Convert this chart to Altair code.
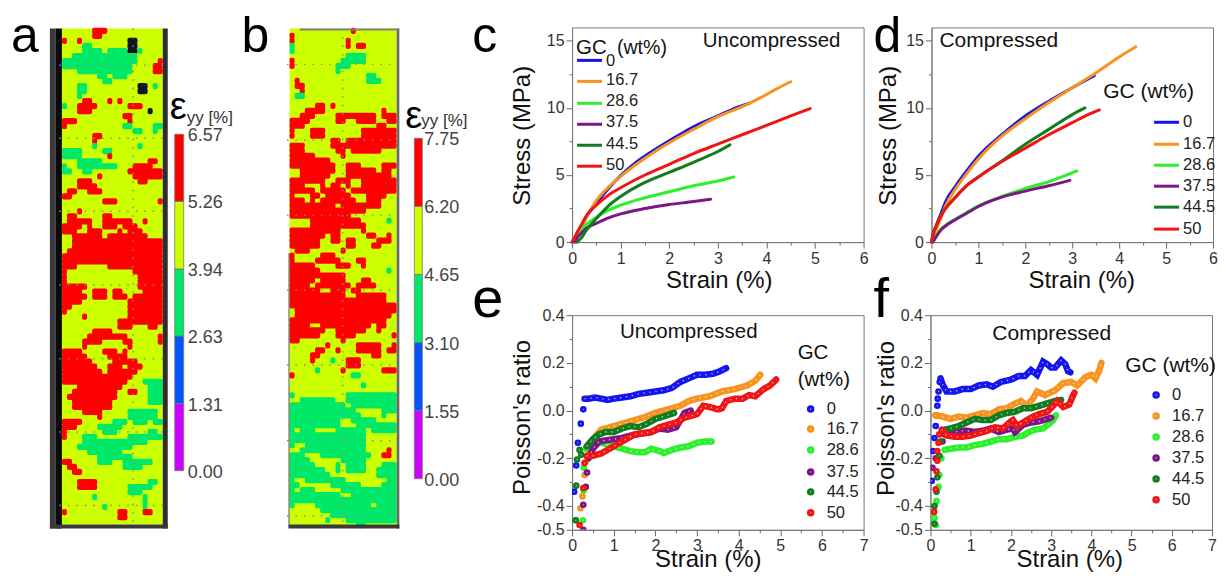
import altair as alt
import pandas as pd

GC_LABELS = ["0", "16.7", "28.6", "37.5", "44.5", "50"]
COLORS = ["#1414ee", "#f7931e", "#2cf02c", "#7d1585", "#0f7d1e", "#f01414"]

# ---- strain maps: . base, r red, g green, k black
MAP_A = [
"......rrr...........","......rr............","r..r.........kk.....","....gg.......kk.....",
"....gggg.ggggkkg....","..ggggggggggggg.....","ggggggggggggggg....r","gggggggggggggg....rr",
"...ggggggggggg....rr",".......gg.ggg.......","........gg..........","...gg..........kk.g.",
"...gg..........kk...","...g................","....rr...r.r........","g..rrrr......rrr....",
"...rrr...........k..","............rr......","rrr..........r......","r...........gg....gg",
"..............gg..g.","......rr............","......r.............","......g........g....",
"gggg....gg..........","gggg.....r..........","...ggggg.........rr.","g..gggggggg...rrrr..",
"gg..gg.......rrrrrrr",".......r......rrrrrr","...rrr.........rr...","...rrrr.............",
".rr..rrr............","rr..................","........rrr........r","....................",
"...r................",".rr.....rr..........",".rrrrr..rrrrrr..r...","rrrr.r..rrr.rrr.....",
"rrr..rrr...r.rrr....","..rrrrrr.rrrrrrrr...","..rrrrrrrrrrrrrrrrrr","..rrrrrrrrrrrrrrrrrr",
".rrrrrrrrrrrrrrrrrrr","rrrrrrrrrrrrrrrrrrrr","rrrrrrrrrrrrrrrrrrrr","rrr......rrrrrrrrrrr",
"r.............rrrrrr","r..............rrrrr","r..............rrrrr","rrrrr..........rrrrr",
"rrrr..rrr.rr....rrrr","rrrrr.rrr.rrr.rrrrrr","rrrr.........rrrrrrr","rr...........rrrrrrr",
"r............rrrrrrr","....r........rrrrrrr","...........rrrrrrrrr","...........rrr...rr.",
"......rrrr..........",".....rrrrrrrr......r","....rrrr....rr.....r","....r........r......",
"rrrr....rrr.r.......","rrrrr....rrrr.......","rrrrrr....rrrrr.....","rrrrrrr..rrr.rrr....",
"rrrrrrrr.rrrrrr.....","rrrrrrrrrrrrrr......","rrrrrrrrrrrrr...gggg","...rrrrrrrrr.....ggg",
"..rrrrrrrrr..rr..ggg",".rrrrrrrrrr......ggg","..rrrrrrrr.......ggg","..rrrrrrrr..........",
"....rrrr.....gggggg.",".......r.....gggggg.","rrrr......ggg.ggg.gg","rrr....ggggg........",
"r.......ggg......gg.","r...ggg......ggggggg","....ggggggggggggg...","...ggggggggggg......",
".....ggggggg........",".......ggggggg......","rr.....ggg..gggggg..",".rr.........gggg....",
"..rr................","....................","...rrrr..........gg.","...rrrr......ggggg..",
".............ggg....","......g.........g...","................g...","........g.......g...",
"r..........rr...rr..","...........rr......."]

MAP_B = [
"............r........","r....................","r..........r.........","g..........r.rr......",
"g....................","...........gggg......","r.........ggggg......","r........ggg.........",
".........g...........","...............gg....",".r.............ggg...",".rr..................",
"..r..................",".gg..................",".....................",".....rr.r............",
"...rrrr...........r..","..rrr....rrrrrrrr.rrr","rrrr.....rr..rrrr..rr","rrr..............rr..",
"r...rrr.......rrrrrrr","r...rrr.......rrrrrrr","........rr.rrrrrrrrrr","rrr.....rrrrrrrrrrrrr",
"rrr......rr.rrrrrr...","rrrrr.....r..........","rrrrrrrr.............","rrrrrrrrr..rrr....rrr",
"..rrrrrrr..rrrrrr.rr.","..rrrrrr...rrrrrrrrr.","rrrrrrr..rrr..rrrrrrr","rrr...r.rr.r..rrrrrrr",
"rrrrr.rrrrr.rrrrrrrrr","r...rr.rrrrr...rrrr..","rrr.r.rrrrrrr..rrr...","rrrrrrrrr.rrrrrrrr...",
"rrrrrrrrrrrrrrr......","rrrrrrrrrrrr.........","....rrrrrrrrrr.....g.","....rrrrrrrrrrr......",
"rrrrrrrrrr....r......","rrrrrrr.rr.....rr..r.","rrrrrr..rr.rr....rrr.","rrrrrr.....rr...rr...",
".rrr......r..........","r.....rrr............","r....rrrrr...rr......","rrrrr....rrr..r......",
"rrrrrr.............g.","rrrrrrrrrrr..........","rrrrr.rrrrr...rr.....","rrrr.rrrrrrr.rrrr....",
"rrrrrr..rrr.rr.......","rrrrrrrrrrr..rrrrrr..","rrrrrrrrrrrrrrrrrrr..","rrrrrrrrrrrrrrrrrrrrr",
".rrrrrrrrrrrrrrrrrrrr",".rrrrrrrrrrrrrrrrrrr.","rrrrrrrrrrrrrrrrrrr..","rrrr..rrrrrrrrrr.rr..",
"rrrrrrr..rrrrrr..r...","rrrrrr...rrrr.......r","rr........r..........",".......r.....rrrrr..r",
".....rr..r...rrrrr.rr","....rr..........rr...","....r...g..rrr.......","...........rrr.......",
".....g....r.......rrr","r...........gg.......",".....................","..............g......",
".....................","g..........gggggggggg","..ggggggg..gggggggggg","ggggggggggg.ggggggggg",
"ggggggggggggg.....ggg","gggggggggggggg....g..","gggggggggg..ggggg....","gggggggggg...gggggggg",
"g.ggg....gggggg.ggggg","ggggggggggggggg......","ggggggggggggggg......","g..gggggggggggg......",
"..ggggggggggggg....r.","ggg...gggggggggg..rr.","gggg......ggggg......","ggggg....g.gggg...ggg",
"ggggggg..g.gggg..gggg","gggggggg.........gggg","g..gggggggg........gg","gg......gggggg....ggg",
"g.ggg.....ggggggggggg","gggggggggg..ggggggggg","ggggggggggggggggggggg","g....ggggggggggg.gggg",
"......ggggggggggggggg","........ggggggggggggg",".......g...gggggggggg",".............gg......"]

CB_A = [0.00, 1.31, 2.63, 3.94, 5.26, 6.57]
CB_B = [0.00, 1.55, 3.10, 4.65, 6.20, 7.75]
CB_COLORS = ["#cc00ff", "#0055ff", "#00e868", "#ccff00", "#ff0000"]

# ---- stress-strain, panel c
C_X = [
[0,.1,.2,.3,.5,.75,1,1.3,1.6,2,2.5,3,3.3,3.65],
[0,.1,.2,.3,.5,.75,1,1.3,1.6,2,2.5,3,3.5,3.9,4.2,4.5],
[.05,.1,.2,.4,.6,1,1.5,2,2.5,3,3.33],
[.05,.1,.2,.3,.5,.75,1,1.5,2,2.5,2.85],
[.1,.2,.3,.5,.75,1,1.5,2,2.5,3,3.25],
[0,.05,.1,.2,.3,.5,.75,1,1.5,2,2.5,3,3.5,4,4.5,4.9]]
C_Y = [
[0,.6,1.2,1.9,2.9,4,4.95,5.9,6.65,7.55,8.6,9.4,9.9,10.35],
[0,.6,1.2,1.9,3.1,4.1,4.9,5.75,6.5,7.4,8.4,9.35,10.1,10.8,11.4,11.95],
[0,.4,1,1.6,2.1,2.75,3.3,3.75,4.2,4.55,4.85],
[0,.3,.7,1.05,1.4,1.8,2.1,2.5,2.8,3.02,3.2],
[0,.35,.9,1.75,2.7,3.4,4.45,5.2,5.95,6.75,7.25],
[0,.3,.7,1.35,2,2.75,3.5,4.05,5,5.8,6.6,7.3,8,8.7,9.4,9.95]]
# ---- panel d
D_X = [
[0,.05,.1,.2,.3,.5,.75,1,1.5,2,2.5,3,3.47],
[0,.1,.2,.3,.5,.75,1,1.5,2,2.5,3,3.5,4,4.35],
[.03,.1,.2,.3,.5,.75,1,1.5,2,2.5,3.1],
[.03,.1,.2,.3,.5,.75,1,1.5,2,2.5,2.95],
[0,.05,.1,.2,.3,.5,.75,1,1.5,2,2.5,3,3.27],
[0,.03,.1,.2,.3,.5,.75,1,1.5,2,2.5,3,3.4,3.58]]
D_Y = [
[0,.7,1.2,2.1,3,4.1,5.3,6.4,8,9.4,10.5,11.5,12.4],
[0,.9,1.8,2.7,3.9,5.1,6.2,7.9,9.2,10.4,11.5,12.6,13.8,14.55],
[0,.4,.95,1.25,1.7,2.2,2.7,3.4,4,4.5,5.3],
[0,.4,.9,1.2,1.65,2.15,2.65,3.35,3.8,4.2,4.6],
[0,.7,1.2,2,2.5,3.3,4.2,4.85,6.05,7.3,8.4,9.5,10],
[0,.6,1.2,1.9,2.5,3.3,4.2,4.85,6,7,8,8.9,9.6,9.85]]

# ---- Poisson's ratio, panel e: isolated early points, then the dense run
E_RISE_X = [[.05,.1,.14,.21,.27],[.2,.25,.3],[.09,.26,.28,.28],[.27,.27,.33,.36],[.09,.1,.12,.18,.22],[.18,.27,.3]]
E_RISE_Y = [[-.34,-.23,-.135,-.055,.005],[-.41,-.36,-.27],[-.46,-.46,-.335,-.24],[-.5,-.395,-.32,-.26],[-.46,-.315,-.205,-.165,-.185],[-.48,-.325,-.22]]
E_X = [
[.3,.4,.55,.7,.85,1,1.2,1.4,1.6,1.8,2,2.2,2.4,2.6,2.8,3,3.2,3.4,3.55,3.7],
[.35,.45,.55,.7,.9,1.1,1.4,1.7,2,2.3,2.6,2.8,3,3.3,3.6,3.9,4.2,4.4,4.52],
[.33,.45,.6,.8,1,1.2,1.4,1.6,1.75,1.9,2.1,2.2,2.4,2.6,2.8,3,3.2,3.35],
[.4,.5,.65,.8,1,1.2,1.4,1.7,1.9,2.1,2.3,2.5,2.6,2.7,2.85],
[.35,.5,.65,.8,1,1.2,1.4,1.6,1.8,2,2.2,2.45],
[.35,.5,.7,.9,1.1,1.3,1.5,1.7,1.9,2.1,2.3,2.5,2.7,3,3.15,3.3,3.5,3.6,3.7,3.9,4.1,4.25,4.4,4.6,4.75,4.9]]
E_Y = [
[.05,.05,.055,.05,.045,.05,.055,.06,.07,.075,.08,.085,.095,.12,.135,.15,.15,.155,.165,.178],
[-.21,-.15,-.11,-.08,-.07,-.06,-.045,-.03,-.01,.005,.02,.04,.05,.06,.08,.09,.105,.125,.15],
[-.16,-.14,-.13,-.14,-.15,-.16,-.17,-.175,-.175,-.16,-.17,-.178,-.165,-.155,-.15,-.135,-.13,-.13],
[-.2,-.16,-.13,-.125,-.12,-.115,-.105,-.095,-.09,-.075,-.08,-.07,-.04,-.01,0],
[-.15,-.12,-.1,-.09,-.09,-.075,-.065,-.07,-.055,-.035,-.025,-.01],
[-.19,-.19,-.18,-.16,-.14,-.12,-.1,-.095,-.09,-.07,-.06,-.05,-.03,-.015,.02,.015,.005,.01,.04,.05,.05,.065,.06,.09,.105,.13]]
# ---- panel f
F_RISE_X = [[.03,.06,.1,.13,.14,.17,.18,.2,.23],[.12],[.1,.13,.15,.2,.22,.27],[.05,.13,.3],[.1,.1,.15,.17,.22,.25],[.09,.13,.15,.17,.17,.2,.22]]
F_RISE_Y = [[-.295,-.17,-.115,-.065,-.02,.02,.05,.08,.12],[-.02],[-.45,-.48,-.38,-.32,-.27,-.2],[-.24,-.2,-.13],[-.475,-.4,-.34,-.28,-.19,-.13],[-.425,-.33,-.255,-.21,-.17,-.135,-.1]]
F_X = [
[.25,.3,.4,.6,.8,1,1.2,1.4,1.55,1.75,2,2.2,2.35,2.5,2.65,2.8,2.9,3,3.1,3.25,3.35,3.42,3.48],
[.15,.3,.5,.7,.9,1.1,1.3,1.5,1.7,1.9,2.05,2.25,2.4,2.55,2.65,2.85,3.1,3.3,3.5,3.65,3.85,4,4.1,4.2,4.25],
[.35,.5,.7,.9,1.1,1.3,1.5,1.7,1.9,2.1,2.3,2.45,2.6,2.8,2.95,3.05,3.12],
[.35,.5,.7,.9,1.1,1.3,1.5,1.7,1.9,2.05,2.1,2.3,2.5,2.7,2.9,3],
[.35,.5,.7,.9,1.1,1.3,1.5,1.7,1.9,2.1,2.3,2.5,2.7,2.9,3.1,3.25],
[.28,.4,.6,.8,1,1.2,1.4,1.6,1.8,2,2.05,2.15,2.3,2.5,2.7,2.9,3.05,3.15,3.3,3.45,3.55,3.58]]
F_Y = [
[.135,.11,.08,.08,.09,.09,.105,.11,.1,.12,.13,.145,.145,.17,.15,.205,.195,.18,.18,.21,.195,.165,.16],
[-.02,-.025,-.035,-.025,-.03,-.02,-.01,-.015,.005,.01,.025,.04,.02,.05,.08,.065,.085,.115,.12,.105,.14,.15,.135,.17,.2],
[-.165,-.16,-.155,-.155,-.145,-.14,-.13,-.12,-.12,-.11,-.105,-.09,-.08,-.075,-.055,-.04,-.02],
[-.1,-.1,-.085,-.085,-.09,-.085,-.075,-.09,-.08,-.075,-.09,-.06,-.05,-.045,-.035,-.03],
[-.08,-.075,-.065,-.05,-.035,-.04,-.04,-.02,-.01,-.005,.01,.01,.02,.03,.04,.045],
[-.08,-.105,-.11,-.11,-.105,-.095,-.085,-.07,-.075,-.045,-.04,-.065,-.05,-.03,-.015,-.005,.02,.04,.015,.025,.065,.075]]

FONT = "Liberation Sans"
ONE = alt.InlineData(values=[{"k": 1}])
PLAIN = alt.ViewBackground(fill="transparent", stroke=None)
FRAMED = alt.ViewBackground(stroke="#777")


def txt(s, x, y, size, color="#111", align="left", baseline="middle"):
    return alt.Chart(ONE).mark_text(text=s, fontSize=size, color=color, align=align, baseline=baseline, font=FONT).encode(
        x=alt.value(x), y=alt.value(y))


def letter(s, x, y, size=50):
    return txt(s, x, y, size, color="#000", baseline="alphabetic")


def spacer(w):
    # invisible mark so that the panel's bounds are its full width
    return alt.Chart(ONE).mark_rule(opacity=0, strokeWidth=0.01).encode(x=alt.value(0), x2=alt.value(w), y=alt.value(0))


def runs(rows):
    out = []
    for r, row in enumerate(rows):
        c = 0
        while c < len(row):
            ch = row[c]
            e = c
            while e < len(row) and row[e] == ch:
                e += 1
            if ch != ".":
                out.append({"x0": c, "x1": e, "y0": r - 0.12, "y1": r + 1.12, "c": ch})
            c = e
    return pd.DataFrame(out)


def strain_map(rows, w, xdom, ydom, ncol, nrow, frames, hlines, vline, name, lx):
    X = alt.X("x0:Q", axis=None, scale=alt.Scale(domain=xdom, nice=False, zero=False))
    Y = alt.Y("y0:Q", axis=None, scale=alt.Scale(domain=ydom, nice=False, zero=False))
    base = alt.Chart(pd.DataFrame({"x0": [0], "x1": [ncol], "y0": [0], "y1": [nrow]})).mark_rect(color="#ccff00").encode(
        x=X, x2="x1:Q", y=Y, y2="y1:Q")
    cells = alt.Chart(runs(rows)).mark_rect(cornerRadius=2).encode(
        x=X, x2="x1:Q", y=Y, y2="y1:Q",
        color=alt.Color("c:N", legend=None, scale=alt.Scale(domain=["r", "g", "k"], range=["#ff0000", "#00e868", "#15151c"])))
    fr = alt.Chart(pd.DataFrame(frames, columns=["x0", "x1", "y0", "y1", "c"])).mark_rect().encode(
        x=X, x2="x1:Q", y=Y, y2="y1:Q", color=alt.Color("c:N", legend=None, scale=None))
    h = alt.Chart(pd.DataFrame({"y0": hlines, "x0": [-0.5] * len(hlines), "x1": [ncol] * len(hlines)})).mark_rule(
        color="#8a8a8a", strokeWidth=1.5, strokeDash=[1.5, 7]).encode(x=X, x2="x1:Q", y=Y)
    v = alt.Chart(pd.DataFrame({"x0": [vline], "y0": [0], "y1": [nrow]})).mark_rule(
        color="#8a8a8a", strokeWidth=1.5, strokeDash=[1.5, 7]).encode(x=X, y=Y, y2="y1:Q")
    return alt.layer(base, cells, fr, h, v, letter(name, lx, 24.5), spacer(w)).properties(width=w, height=502, view=PLAIN).resolve_scale(color="independent")


def colorbar(stops, w, ydom, bx0, bx1, lx, ex, ey, tx, ty):
    Y = alt.Y("lo:Q", axis=None, scale=alt.Scale(domain=ydom, nice=False, zero=False))
    df = pd.DataFrame({"lo": stops[:-1], "hi": stops[1:], "c": CB_COLORS})
    bar = alt.Chart(df).mark_rect(stroke="#777", strokeWidth=0.8).encode(
        x=alt.value(bx0), x2=alt.value(bx1), y=Y, y2="hi:Q", color=alt.Color("c:N", legend=None, scale=None))
    lab = alt.Chart(pd.DataFrame({"lo": stops, "t": [f"{s:.2f}" for s in stops]})).mark_text(
        align="left", baseline="middle", fontSize=18, color="#444", dy=2, font=FONT).encode(
        x=alt.value(lx), y=Y, text="t:N")
    return alt.layer(bar, lab, txt("ε", ex, ey, 38, color="#000"), txt("yy [%]", tx, ty, 17, color="#333"), spacer(w)).properties(width=w, height=502, view=PLAIN)


AXIS_STYLE = dict(grid=False, labelFontSize=16, labelColor="#333", titleFontSize=24, titleFontWeight="normal",
                  titleColor="#111", labelOverlap=False, domainColor="#777", tickColor="#666",
                  labelFont=FONT, titleFont=FONT, titleBaseline="middle")


def xy(xmax, ymin, ymax, yvals, test, label, ytitle, xt, yt):
    x = alt.X("x:Q", scale=alt.Scale(domain=[0, xmax], nice=False, zero=False),
              axis=alt.Axis(values=[i * 0.5 for i in range(2 * xmax + 1)], title="Strain (%)",
                            labelExpr="datum.value % 1 == 0 ? format(datum.value, 'd') : ''",
                            tickSize={"condition": {"test": "datum.value % 1 == 0", "value": 6}, "value": 3},
                            labelFlush=False, labelPadding=2, titleX=xt[0], titleY=xt[1], **AXIS_STYLE))
    y = alt.Y("y:Q", scale=alt.Scale(domain=[ymin, ymax], nice=False, zero=False),
              axis=alt.Axis(values=yvals, title=ytitle,
                            labelExpr="%s ? %s : ''" % (test, label),
                            tickSize={"condition": {"test": test, "value": 6}, "value": 3},
                            labelPadding=2, titleX=yt[0], titleY=yt[1], **AXIS_STYLE))
    return x, y


def stress_panel(xs, ys, extras, xt, yt, w=292):
    x, y = xy(6, 0, 16, [i * 2.5 for i in range(7)], "datum.value % 5 == 0", "format(datum.value, 'd')",
              "Stress (MPa)", xt, yt)
    layers = []
    for sx, sy, col in zip(xs, ys, COLORS):
        layers.append(alt.Chart(pd.DataFrame({"x": sx, "y": sy})).mark_line(
            color=col, strokeWidth=3, interpolate="monotone", strokeCap="round").encode(x=x, y=y))
    return alt.layer(*layers, *extras).properties(width=w, height=215, view=FRAMED)


def poisson_panel(rx, ry, xs, ys, extras, xt, yt, w=292):
    x, y = xy(7, -0.5, 0.4, [round(-0.5 + i * 0.1, 1) for i in range(10)],
              "indexof([-5,-4,-2,0,2,4], round(datum.value * 10)) >= 0",
              "replace(format(datum.value, '.1f'), '\u2212', '-')",
              "Poisson's ratio", xt, yt)
    layers = []
    for a, b, sx, sy, col in zip(rx, ry, xs, ys, COLORS):
        d = pd.DataFrame({"x": sx, "y": sy})
        r = pd.DataFrame({"x": a, "y": b})
        layers.append(alt.Chart(d).mark_line(color=col, strokeWidth=6.5, strokeCap="round", clip=True).encode(x=x, y=y))
        layers.append(alt.Chart(d).mark_line(color="#ffffff", opacity=0.7, strokeWidth=1.3, strokeDash=[1.3, 4.7], clip=True).encode(x=x, y=y))
        layers.append(alt.Chart(r).mark_circle(color=col, size=44, opacity=1, clip=True).encode(x=x, y=y))
        layers.append(alt.Chart(r).mark_circle(color="#ffffff", size=1.5, opacity=0.7, clip=True).encode(x=x, y=y))
    return alt.layer(*layers, *extras).properties(width=w, height=215, view=FRAMED)


def line_legend(x0, x1, ys, tx, tys, size=16.5):
    out = []
    for col, yy, tyy, lab in zip(COLORS, ys, tys, GC_LABELS):
        out.append(alt.Chart(ONE).mark_rule(color=col, strokeWidth=3).encode(x=alt.value(x0), x2=alt.value(x1), y=alt.value(yy)))
        out.append(txt(lab, tx, tyy, size, color="#222"))
    return out


def dot_legend(x, ys, tx, size=16.5):
    out = []
    for col, yy, lab in zip(COLORS, ys, GC_LABELS):
        out.append(alt.Chart(ONE).mark_circle(color=col, size=56, opacity=1).encode(x=alt.value(x), y=alt.value(yy)))
        out.append(alt.Chart(ONE).mark_circle(color="#ffffff", size=2, opacity=0.7).encode(x=alt.value(x), y=alt.value(yy)))
        out.append(txt(lab, tx, yy, size, color="#222"))
    return out


panel_a = strain_map(
    MAP_A, 160, [-10.69, 20.99], [99.8, -0.2], 20, 99,
    [(-2.38, -1.2, 0, 99.8, "#3a3a3a"), (-1.2, 0, 0, 99.8, "#0a0a0a"), (20, 20.99, 0, 99.8, "#2e2e2e"), (-2.38, 20.99, 99, 99.8, "#3a3a3a")],
    [7.37, 21.9, 36.5, 51.2, 65.9, 80.5, 95.2], 14.1, "a", 3)
bar_a = colorbar(CB_A, 68, [-1.131, 8.656], 7, 16, 20, 2, 81, 19, 91)
panel_b = strain_map(
    MAP_B, 164, [-10.57, 21.53], [100.2, -0.2], 21, 100,
    [(21, 21.53, 0, 100.2, "#6a6a6a"), (2, 21.53, 0, 0.4, "#808080"), (-0.2, 21.53, 99.4, 100.2, "#3a3a3a"), (-0.2, 0, 45, 100, "#555555")],
    [7.2, 22.4, 37.4, 52.4, 67.4, 82.6, 97.6], 10.4, "b", 6)
bar_b = colorbar(CB_B, 72, [-1.136, 10.273], 15, 23, 25, 6, 90, 22, 94)

c_extra = line_legend(5, 30, [33, 54, 76, 97, 118, 139], 34, [34, 53, 74, 95, 117, 138]) + [
    txt("Uncompressed", 131, 14, 20.5), txt("GC", 4, 21, 20.5), txt("(wt%)", 45, 21, 19.6), letter("c", -100, 24.5)]
panel_c = stress_panel(C_X, C_Y, c_extra, (147, 38), (-50, 108))

d_extra = line_legend(223, 248, [95, 117, 138, 159, 180, 202], 252, [95, 117, 138, 159, 180, 202]) + [
    txt("Compressed", 8, 14, 21), txt("GC (wt%)", 172, 65, 21), letter("d", -58, 24.5)]
panel_d = stress_panel(D_X, D_Y, d_extra, (150, 38), (-43, 108), w=282)

e_extra = dot_legend(239, [94, 114, 135, 157, 177, 198], 255) + [
    txt("Uncompressed", 48, 17, 20.5), txt("GC", 226, 38, 20.5), txt("(wt%)", 226, 65, 20.5), letter("e", -100, 2, 56)]
panel_e = poisson_panel(E_RISE_X, E_RISE_Y, E_X, E_Y, e_extra, (136, 29.5), (-50, 102))

f_extra = dot_legend(226, [80, 101, 122, 143, 164, 185], 242) + [
    txt("Compressed", 62, 19, 21), txt("GC (wt%)", 195, 51, 21), letter("f", -57, 2, 56)]
panel_f = poisson_panel(F_RISE_X, F_RISE_Y, F_X, F_Y, f_extra, (139, 29.5), (-44, 103), w=282)

row1 = alt.hconcat(panel_c, panel_d, spacing=4)
row2 = alt.hconcat(panel_e, panel_f, spacing=4)
col = alt.vconcat(row1, row2, spacing=-21.8)
chart = alt.hconcat(panel_a, bar_a, panel_b, bar_b, col, spacing=0).properties(
    padding={"top": 3, "left": 0, "right": 0, "bottom": 0}).configure_view(stroke=None)
chart.save("out.html", embed_options={"renderer": "svg", "actions": False})
